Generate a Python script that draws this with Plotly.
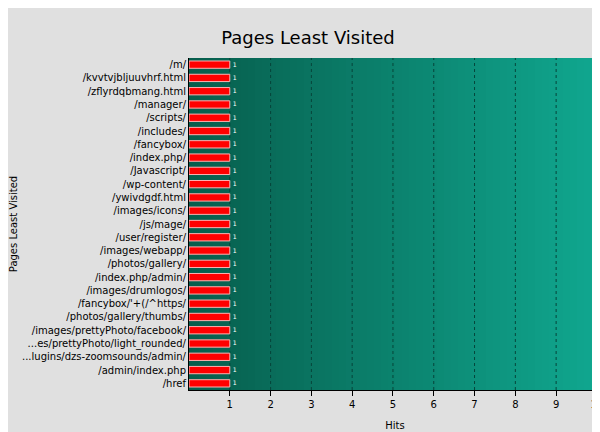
import plotly.graph_objects as go
import numpy as np

pages = ["/m/", "/kvvtvjbljuuvhrf.html", "/zflyrdqbmang.html", "/manager/", "/scripts/", "/includes/",
         "/fancybox/", "/index.php/", "/Javascript/", "/wp-content/", "/ywivdgdf.html", "/images/icons/",
         "/js/mage/", "/user/register/", "/images/webapp/", "/photos/gallery/", "/index.php/admin/",
         "/images/drumlogos/", "/fancybox/'+(/^https/", "/photos/gallery/thumbs/",
         "/images/prettyPhoto/facebook/", "...es/prettyPhoto/light_rounded/",
         "...lugins/dzs-zoomsounds/admin/", "/admin/index.php", "/href"]
hits = [1]*len(pages)
xticks = list(range(1, 11))
xmax = 10.1

fig = go.Figure()
gx = np.linspace(0, xmax, 60)
fig.add_trace(go.Heatmap(x=gx, y=[0, 1], z=[gx, gx], xaxis="x", yaxis="y",
                         colorscale=[[0, "#075d4c"], [1, "#10a890"]], showscale=False, hoverinfo="skip"))
gxs, gys = [], []
for t in xticks:
    gxs += [t, t, None]; gys += [0, 1, None]
fig.add_trace(go.Scatter(x=gxs, y=gys, mode="lines", line=dict(color="#06453a", width=1, dash="dot"),
                         xaxis="x", yaxis="y", hoverinfo="skip"))
fig.add_trace(go.Bar(y=pages, x=hits, orientation="h", xaxis="x", yaxis="y2",
                     marker=dict(color="#ff0000", line=dict(color="#ffb0b0", width=1)),
                     width=0.55, text=[str(h) for h in hits], textposition="outside",
                     textfont=dict(color="white", size=11, family="DejaVu Sans"), cliponaxis=False))
fig.update_layout(
    width=600, height=432, paper_bgcolor="#e0e0e0", plot_bgcolor="#0a6655",
    margin=dict(l=181, r=7, t=50, b=50, autoexpand=False),
    title=dict(text="Pages Least Visited", x=0.5, xanchor="center", y=0.945, font=dict(size=18, color="black", family="DejaVu Sans")),
    font=dict(family="DejaVu Sans", size=10, color="black"),
    showlegend=False,
    xaxis=dict(range=[0, xmax], tickvals=xticks, showgrid=False, automargin=False,
               ticks="outside", ticklen=5, tickcolor="black", showline=True, linecolor="black", zeroline=False,
               title=dict(text="Hits", font=dict(size=10), standoff=12)),
    yaxis=dict(range=[0, 1], visible=False, fixedrange=True),
    yaxis2=dict(overlaying="y", autorange="reversed", showgrid=False, ticks="", showline=True, linecolor="black",
                automargin=False, side="left",
                title=dict(text="Pages Least Visited", font=dict(size=10), standoff=150), tickfont=dict(size=10)),
)
fig.write_html("out.html")
